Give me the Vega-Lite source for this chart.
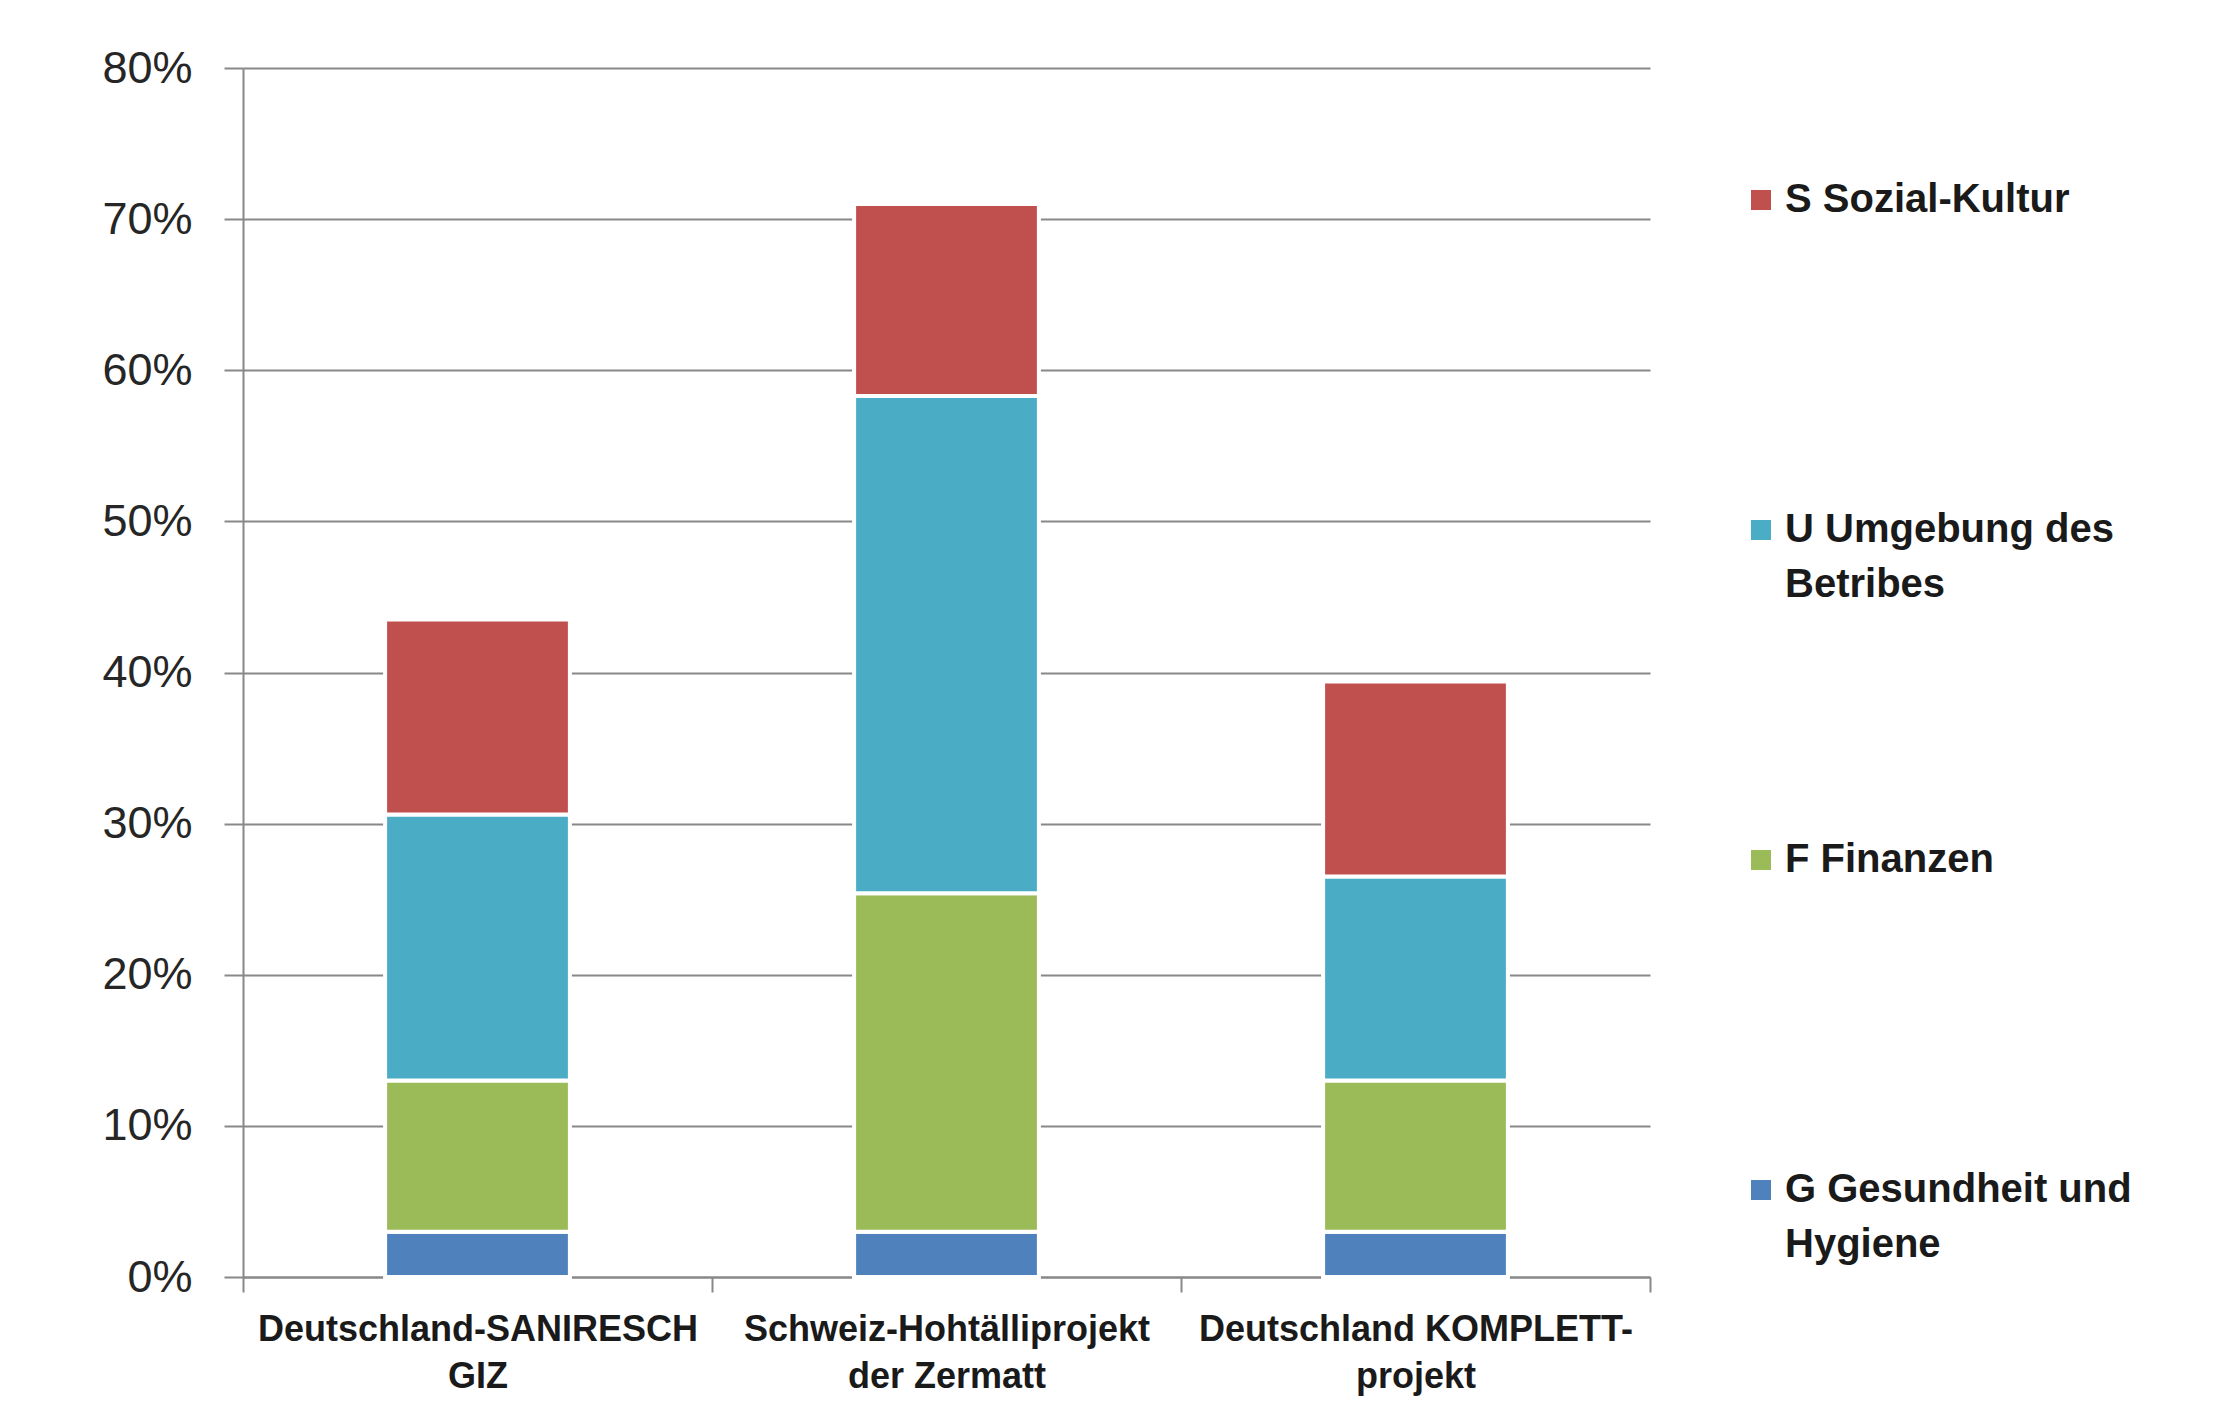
{
  "$schema": "https://vega.github.io/schema/vega-lite/v6.json",
  "width": 1407,
  "height": 1209,
  "autosize": {"type": "none"},
  "padding": {"left": 243, "top": 68, "right": 570, "bottom": 141},
  "background": "white",
  "data": {
    "values": [
      {"project": "Deutschland-SANIRESCH GIZ", "category": "G Gesundheit und Hygiene", "value": 0.030},
      {"project": "Deutschland-SANIRESCH GIZ", "category": "F Finanzen", "value": 0.100},
      {"project": "Deutschland-SANIRESCH GIZ", "category": "U Umgebung des Betribes", "value": 0.176},
      {"project": "Deutschland-SANIRESCH GIZ", "category": "S Sozial-Kultur", "value": 0.129},
      {"project": "Schweiz-Hohtälliprojekt der Zermatt", "category": "G Gesundheit und Hygiene", "value": 0.030},
      {"project": "Schweiz-Hohtälliprojekt der Zermatt", "category": "F Finanzen", "value": 0.224},
      {"project": "Schweiz-Hohtälliprojekt der Zermatt", "category": "U Umgebung des Betribes", "value": 0.329},
      {"project": "Schweiz-Hohtälliprojekt der Zermatt", "category": "S Sozial-Kultur", "value": 0.127},
      {"project": "Deutschland KOMPLETT-projekt", "category": "G Gesundheit und Hygiene", "value": 0.030},
      {"project": "Deutschland KOMPLETT-projekt", "category": "F Finanzen", "value": 0.100},
      {"project": "Deutschland KOMPLETT-projekt", "category": "U Umgebung des Betribes", "value": 0.135},
      {"project": "Deutschland KOMPLETT-projekt", "category": "S Sozial-Kultur", "value": 0.129}
    ]
  },
  "transform": [
    {"calculate": "indexof(['G Gesundheit und Hygiene', 'F Finanzen', 'U Umgebung des Betribes', 'S Sozial-Kultur'], datum.category)", "as": "stackKey"}
  ],
  "mark": {"type": "bar", "stroke": "white", "strokeWidth": 4, "width": {"band": 0.394}},
  "encoding": {
    "x": {
      "field": "project",
      "type": "nominal",
      "sort": ["Deutschland-SANIRESCH GIZ", "Schweiz-Hohtälliprojekt der Zermatt", "Deutschland KOMPLETT-projekt"],
      "scale": {"paddingInner": 0, "paddingOuter": 0},
      "axis": {
        "title": null,
        "labelAngle": 0,
        "tickBand": "extent",
        "grid": false,
        "tickSize": 15,
        "labelPadding": 20,
        "labelFont": "Liberation Sans",
        "labelFontSize": 36,
        "labelFontWeight": "bold",
        "labelColor": "#1a1a1a",
        "labelBaseline": "top",
        "labelLineHeight": 47,
        "labelLimit": 800,
        "labelOverlap": false,
        "labelExpr": "datum.label == 'Deutschland-SANIRESCH GIZ' ? ['Deutschland-SANIRESCH', 'GIZ'] : datum.label == 'Schweiz-Hohtälliprojekt der Zermatt' ? ['Schweiz-Hohtälliprojekt', 'der Zermatt'] : datum.label == 'Deutschland KOMPLETT-projekt' ? ['Deutschland KOMPLETT-', 'projekt'] : ''"
      }
    },
    "y": {
      "field": "value",
      "type": "quantitative",
      "aggregate": "sum",
      "stack": "zero",
      "scale": {"domain": [0, 0.8], "nice": false},
      "axis": {
        "title": null,
        "values": [0, 0.1, 0.2, 0.3, 0.4, 0.5, 0.6, 0.7, 0.8],
        "format": ".0%",
        "tickSize": 19,
        "labelPadding": 32,
        "labelFont": "Liberation Sans",
        "labelFontSize": 45,
        "labelColor": "#262626",
        "grid": true
      }
    },
    "order": {"field": "stackKey", "type": "quantitative", "sort": "ascending"},
    "color": {
      "field": "category",
      "type": "nominal",
      "scale": {
        "domain": ["S Sozial-Kultur", "U Umgebung des Betribes", "F Finanzen", "G Gesundheit und Hygiene"],
        "range": ["#C0504D", "#4BACC6", "#9BBB59", "#4F81BD"]
      },
      "legend": {
        "title": null,
        "orient": "none",
        "legendX": 1498,
        "legendY": 112,
        "direction": "vertical",
        "symbolType": "square",
        "symbolSize": 400,
        "symbolStrokeWidth": 0,
        "symbolOpacity": 1,
        "labelFont": "Liberation Sans",
        "labelFontSize": 40,
        "labelFontWeight": "bold",
        "labelColor": "#1a1a1a",
        "labelOffset": 4,
        "labelLimit": 800,
        "labelBaseline": "middle",
        "rowPadding": 235,
        "padding": 0,
        "labelExpr": "datum.label == 'U Umgebung des Betribes' ? ['U Umgebung des', 'Betribes'] : datum.label == 'G Gesundheit und Hygiene' ? ['G Gesundheit und', 'Hygiene'] : [datum.label, ' ']"
      }
    }
  },
  "config": {
    "view": {"stroke": null},
    "style": {"guide-label": {"lineHeight": 55}},
    "axis": {
      "domainColor": "#888888",
      "domainWidth": 2,
      "tickColor": "#888888",
      "tickWidth": 2,
      "gridColor": "#888888",
      "gridWidth": 2
    }
  }
}
